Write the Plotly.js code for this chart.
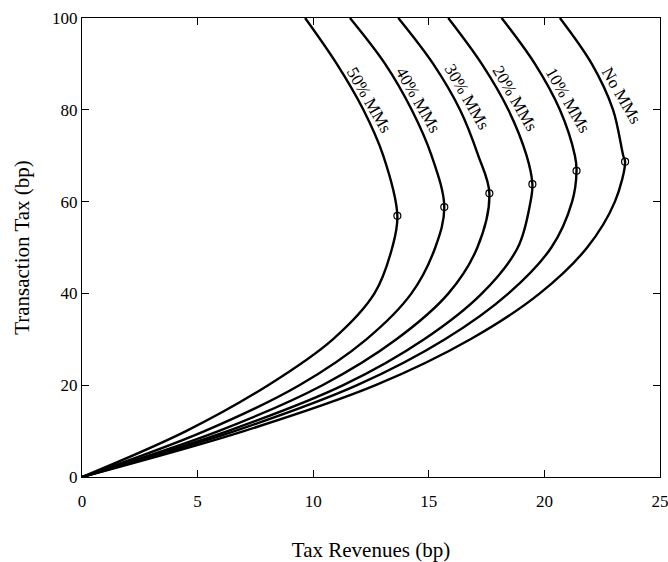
<!DOCTYPE html>
<html>
<head>
<meta charset="utf-8">
<script src="https://cdn.plot.ly/plotly-3.0.1.min.js"></script>
<style>html,body{margin:0;padding:0;background:#fff;}#chart{width:668px;height:562px;}</style>
</head>
<body>
<div id="chart"></div>
<script>
// Transaction tax levels (bp) at which revenues were read
var taxLevels = [0, 10, 20, 30, 40, 50, 60, 70, 80, 90, 100];
// Tax revenues (bp) per market-maker share (null = not read, point lies next to the peak)
var series = ["50% MMs", "40% MMs", "30% MMs", "20% MMs", "10% MMs", "No MMs"];
var rev50 = [0, 4.50, 8.05, 10.85, 12.65, 13.42, null, 13.03, 12.17, 11.02, 9.65];
var rev40 = [0, 5.30, 9.40, 12.30, 14.25, 15.28, null, 15.12, 14.26, 13.11, 11.59];
var rev30 = [0, 5.90, 10.40, 13.60, 15.85, 17.10, null, 17.14, 16.35, 15.19, 13.68];
var rev20 = [0, 6.30, 11.30, 14.80, 17.30, 18.85, 19.40, 19.23, 18.44, 17.29, 15.84];
var rev10 = [0, 6.60, 11.90, 15.70, 18.45, 20.30, 21.20, 21.32, 20.67, 19.59, 18.15];
var rev0  = [0, 7.00, 12.70, 16.80, 19.80, 21.85, 23.05, 23.41, 22.97, 22.05, 20.67];
// Revenue-maximizing points (marked with circles)
var peakRev = [13.64, 15.67, 17.62, 19.48, 21.39, 23.49];
var peakTax = [56.9, 58.8, 61.8, 63.8, 66.7, 68.7];
// Label anchor positions (data coords)
var labelRev = [12.43, 14.55, 16.64, 18.73, 21.03, 23.34];
var labelTax = [82.1, 82.1, 82.9, 82.5, 82.1, 83.2];

var revs = [rev50, rev40, rev30, rev20, rev10, rev0];
var FONT = "Liberation Serif, Times New Roman, serif";

var traces = [];
revs.forEach(function (r, i) {
  var pts = [];
  taxLevels.forEach(function (t, j) { if (r[j] !== null) pts.push([r[j], t]); });
  pts.push([peakRev[i], peakTax[i]]);
  pts.sort(function (a, b) { return a[1] - b[1]; });
  traces.push({
    x: pts.map(function (p) { return p[0]; }),
    y: pts.map(function (p) { return p[1]; }),
    mode: "lines",
    line: {color: "#000", width: 2.4, shape: "spline", smoothing: 1},
    hoverinfo: "skip",
    showlegend: false
  });
});
traces.push({
  x: peakRev, y: peakTax, mode: "markers",
  marker: {symbol: "circle-open", size: 7, color: "#000", line: {width: 1.2, color: "#000"}},
  showlegend: false, hoverinfo: "skip"
});

var annotations = series.map(function (s, i) {
  return {
    x: labelRev[i], y: labelTax[i], xref: "x", yref: "y",
    text: s, showarrow: false, textangle: 60,
    font: {family: FONT, size: 17, color: "#000"}
  };
});

var layout = {
  width: 668, height: 562,
  margin: {l: 82, r: 8, t: 18, b: 85},
  paper_bgcolor: "#fff", plot_bgcolor: "#fff",
  font: {family: FONT, size: 17, color: "#000"},
  showlegend: false,
  xaxis: {
    range: [0, 25], dtick: 5, tick0: 0,
    ticks: "inside", ticklen: 7, tickcolor: "#000", tickwidth: 1,
    showline: true, linecolor: "#000", linewidth: 1, mirror: "ticks",
    showgrid: false, zeroline: false,
    ticklabelstandoff: 9, ticklabeloverflow: "allow",
    tickfont: {family: FONT, size: 17, color: "#000"},
    title: {text: "Tax Revenues (bp)", font: {family: FONT, size: 21, color: "#000"}, standoff: 34}
  },
  yaxis: {
    range: [0, 100], dtick: 20, tick0: 0,
    ticks: "inside", ticklen: 7, tickcolor: "#000", tickwidth: 1,
    showline: true, linecolor: "#000", linewidth: 1, mirror: "ticks",
    showgrid: false, zeroline: false,
    ticklabeloverflow: "allow",
    tickfont: {family: FONT, size: 17, color: "#000"},
    title: {text: "Transaction Tax (bp)", font: {family: FONT, size: 21, color: "#000"}, standoff: 16}
  },
  annotations: annotations
};

Plotly.newPlot("chart", traces, layout, {staticPlot: true, displayModeBar: false});
</script>
</body>
</html>
